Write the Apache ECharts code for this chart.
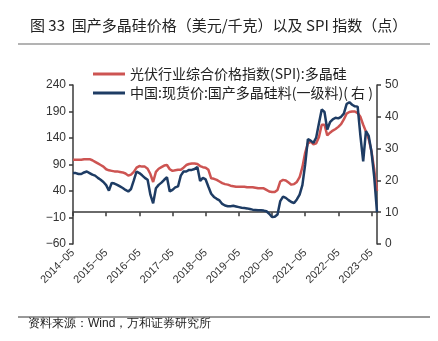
<!DOCTYPE html>
<html>
<head>
<meta charset="utf-8">
<script src="https://cdn.jsdelivr.net/npm/echarts@6/dist/echarts.min.js"></script>
<style>
html,body{margin:0;padding:0;background:#fff;}
#c{width:438px;height:341px;}
</style>
</head>
<body>
<div id="c"></div>
<script>
// Monthly categories 2014-05 .. 2023-07
var startYear = 2014, startMonth = 5, monthCount = 111;
var months = [];
for (var k = 0; k < monthCount; k++) {
  var m = startMonth - 1 + k;
  var y = startYear + Math.floor(m / 12);
  var mm = (m % 12) + 1;
  months.push(y + '-' + (mm < 10 ? '0' + mm : '' + mm));
}

var seriesNames = ['光伏行业综合价格指数(SPI):多晶硅', '中国:现货价:国产多晶硅料(一级料)( 右 )'];

// SPI polysilicon index (left axis, points)
var spiIndex = [
  99, 99, 99, 99, 100, 100, 100, 98, 95, 92, 89, 86,
  81, 79, 78, 77, 77, 76, 75, 73, 69, 71, 76, 84,
  87, 86, 86, 82, 72, 57, 76, 82, 85, 88, 89, 81,
  78, 79, 80, 80, 84, 89, 91, 92, 92, 91, 87, 85,
  84, 80, 64, 63, 61, 58, 55, 53, 52, 50, 49, 48,
  48, 48, 48, 47, 47, 47, 46, 45, 45, 45, 42, 39,
  38, 38, 42, 58, 61, 60, 56, 52, 53, 57, 66, 85,
  112, 130, 133, 128, 130, 142, 165, 165, 145, 150, 154, 157,
  161, 166, 175, 186, 189, 190, 190, 187, 180, 165, 152, 138,
  115, 80, 40
];

// Domestic polysilicon spot price, USD/kg (right axis)
var spotPrice = [
  22.3, 22.3, 22.0, 22.0, 22.5, 22.8, 22.3, 21.8, 21.5, 20.8, 20.2, 19.5,
  18.5, 16.8, 19.2, 19.0, 18.6, 18.1, 17.6, 17.0, 16.5, 17.3, 20.0, 22.8,
  22.3, 21.6, 20.8, 20.2, 15.5, 12.8, 17.5, 18.6, 19.3, 20.2, 21.0, 16.5,
  17.0, 17.8, 18.1, 21.5, 22.8, 22.8, 23.3, 23.3, 23.6, 24.2, 19.8, 20.8,
  20.3, 18.0, 15.8, 14.8, 14.2, 13.7, 12.6, 12.1, 11.9, 11.9, 12.0, 11.8,
  11.6, 11.4, 11.3, 11.2, 11.0, 10.8, 10.7, 10.6, 10.6, 10.5, 10.3, 9.5,
  8.5, 8.6, 9.3, 13.5, 14.9, 14.5, 13.8, 13.2, 12.9, 14.0, 15.5, 18.5,
  25.0, 33.0, 32.5, 31.8, 33.5, 38.0, 42.3, 41.5, 36.0, 38.3, 39.2, 39.7,
  39.5, 40.0, 41.0, 44.0, 44.6, 43.8, 43.3, 43.2, 34.0, 26.0, 35.5, 34.0,
  29.0, 21.0, 10.0
];

var leftTicks = { min: -60, max: 240, interval: 50 };
var rightTicks = { min: 0, max: 50, interval: 10 };

var titleText = '图 33  国产多晶硅价格（美元/千克）以及 SPI 指数（点）';
var sourceText = '资料来源：Wind，万和证券研究所';

var RED = '#CD5452';
var BLUE = '#1E3C64';
var AXIS = '#3a3a3a';
var FONT = '"Noto Sans CJK SC", "Noto Sans", sans-serif';

function isMay(idx, val) { return /-05$/.test(val); }
function minusFmt(v) { return String(v).replace(/-/g, '\u2212'); }

var chart = echarts.init(document.getElementById('c'), null, { renderer: 'canvas' });
chart.setOption({
  animation: false,
  backgroundColor: '#fff',
  textStyle: { fontFamily: FONT },
  title: {
    text: titleText,
    left: 25, top: 13,
    textStyle: { fontSize: 15, fontWeight: 'normal', color: '#222', fontFamily: FONT }
  },
  graphic: [
    { type: 'line', shape: { x1: 18, y1: 44, x2: 430, y2: 44 }, style: { stroke: '#9a9a9a', lineWidth: 1.5 } },
    { type: 'line', shape: { x1: 18, y1: 317, x2: 430, y2: 317 }, style: { stroke: '#333', lineWidth: 1 } },
    { type: 'text', left: 28, top: 318, style: { text: sourceText, fontSize: 12, fill: '#222', font: '12px ' + FONT } }
  ],
  legend: {
    orient: 'vertical',
    left: 88, top: 62,
    itemWidth: 32, itemHeight: 3, itemGap: 5,
    icon: 'rect',
    textStyle: { fontSize: 14, color: '#222', fontFamily: FONT },
    data: seriesNames
  },
  grid: { left: 73, right: 61, top: 85, bottom: 97, containLabel: false },
  xAxis: [
    {
      type: 'category', data: months, boundaryGap: false, position: 'bottom',
      axisLine: { onZero: true, lineStyle: { color: AXIS, width: 1.5 } },
      axisTick: { show: true, interval: isMay, length: 4, lineStyle: { color: AXIS, width: 1.5 } },
      axisLabel: { show: false },
      splitLine: { show: false }
    },
    {
      type: 'category', data: months, boundaryGap: false, position: 'bottom',
      axisLine: { show: false, onZero: false },
      axisTick: { show: false },
      axisLabel: {
        show: true, interval: isMay, rotate: 45, fontSize: 11, color: '#333', margin: 7,
        fontFamily: 'Liberation Sans, Arial, sans-serif',
        formatter: minusFmt
      },
      splitLine: { show: false }
    }
  ],
  yAxis: [
    {
      type: 'value', position: 'left',
      min: leftTicks.min, max: leftTicks.max, interval: leftTicks.interval,
      axisLine: { show: true, lineStyle: { color: AXIS, width: 1.5 } },
      axisTick: { show: true, length: 4, lineStyle: { color: AXIS, width: 1.5 } },
      axisLabel: { fontSize: 12, color: '#333', margin: 7, formatter: minusFmt, fontFamily: 'Liberation Sans, Arial, sans-serif' },
      splitLine: { show: false }
    },
    {
      type: 'value', position: 'right',
      min: rightTicks.min, max: rightTicks.max, interval: rightTicks.interval,
      axisLine: { show: true, lineStyle: { color: AXIS, width: 1.5 } },
      axisTick: { show: true, length: 4, lineStyle: { color: AXIS, width: 1.5 } },
      axisLabel: { fontSize: 12, color: '#333', margin: 8, fontFamily: 'Liberation Sans, Arial, sans-serif' },
      splitLine: { show: false }
    }
  ],
  series: [
    {
      name: seriesNames[0], type: 'line', xAxisIndex: 0, yAxisIndex: 0,
      data: spiIndex, showSymbol: false, symbol: 'none',
      lineStyle: { color: RED, width: 2.5 }, itemStyle: { color: RED }
    },
    {
      name: seriesNames[1], type: 'line', xAxisIndex: 0, yAxisIndex: 1,
      data: spotPrice, showSymbol: false, symbol: 'none',
      lineStyle: { color: BLUE, width: 2.5 }, itemStyle: { color: BLUE }
    }
  ]
});
</script>
</body>
</html>
